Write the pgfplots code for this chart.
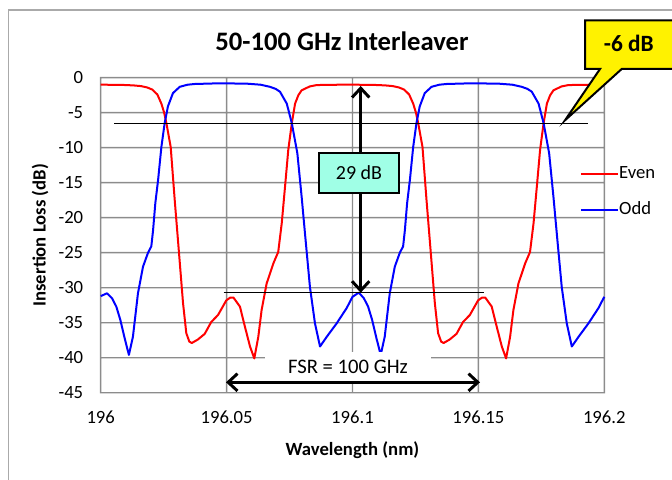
\documentclass[border=0pt]{standalone}
\usepackage{fontspec}
\setmainfont{Carlito}
\usepackage{pgfplots}
\pgfplotsset{compat=1.18}
\usetikzlibrary{arrows.meta}

\definecolor{framegray}{RGB}{170,170,170}
\definecolor{gridgray}{RGB}{140,140,140}
\definecolor{boxcyan}{RGB}{160,255,230}

\begin{document}
\begin{tikzpicture}
% grid drawn as thin filled bars, in pixels (0.75pt per px), behind the curves
\begin{scope}[x=0.75pt, y=-0.75pt, shift={(-100.7,-392.7)}]
  \draw[color=framegray, line width=1pt] (8.6,700) -- (8.6,10) -- (700,10);
  \fill[gridgray]
    (225.9,77.0) rectangle (227.3,393.4)
    (351.8,77.0) rectangle (353.2,393.4)
    (477.7,77.0) rectangle (479.1,393.4)
    (100.0,77.0) rectangle (101.4,393.4)
    (603.6,77.0) rectangle (605.0,393.4)
    (100.0,77.0) rectangle (605.0,78.4)
    (100.0,112.0) rectangle (605.0,113.4)
    (100.0,147.0) rectangle (605.0,148.4)
    (100.0,182.0) rectangle (605.0,183.4)
    (100.0,217.0) rectangle (605.0,218.4)
    (100.0,252.0) rectangle (605.0,253.4)
    (100.0,287.0) rectangle (605.0,288.4)
    (100.0,322.0) rectangle (605.0,323.4)
    (100.0,357.0) rectangle (605.0,358.4)
    (100.0,392.0) rectangle (605.0,393.4);
\end{scope}

\begin{axis}[
  at={(0,0)}, anchor=south west,
  scale only axis, width=377.7pt, height=236.25pt,
  xmin=196, xmax=196.2, ymin=-45, ymax=0,
  xtick={196,196.05,196.1,196.15,196.2},
  xticklabels={196,196.05,196.1,196.15,196.2},
  ytick={-45,-40,-35,-30,-25,-20,-15,-10,-5,0},
  yticklabels={-45,-40,-35,-30,-25,-20,-15,-10,-5,0},
  axis line style={draw=none},
  major tick length=0pt,
  tick label style={font=\fontsize{14}{16}\selectfont},
  yticklabel style={xshift=-9.6pt},
  xticklabel style={yshift=-9.8pt},
  xlabel={Wavelength (nm)},
  ylabel={Insertion Loss (dB)},
  label style={font=\bfseries\fontsize{14}{16}\selectfont},
  xlabel style={at={(axis description cs:0.5,0)}, anchor=center, yshift=-43pt},
  ylabel style={at={(axis description cs:0,0.5)}, anchor=center, yshift=45.5pt},
  title={50-100 GHz Interleaver},
  title style={at={(axis description cs:0.5,1)}, anchor=center, xshift=-7.9pt, yshift=21pt,
    font=\bfseries\fontsize{20}{24}\selectfont},
  legend style={draw=none, fill=none, at={(axis description cs:0.951,0.637)}, anchor=west,
    inner sep=0pt, font=\fontsize{14}{16}\selectfont, row sep=14pt,
    nodes={inner sep=0pt, text height=10pt, text depth=3pt}},
  legend cell align=left,
  legend image code/.code={\draw[#1] (0pt,0pt) -- (28pt,0pt);},
  clip=false,
]

% Even
\addplot[red, line width=1.5pt, line join=round] coordinates {
(196.000,-1.0)(196.008,-1.02)(196.013,-1.1)(196.016,-1.2)(196.0185,-1.4)(196.0205,-1.7)
(196.0225,-2.4)(196.0241,-3.7)(196.0252,-5.0)(196.0261,-6.5)(196.0278,-9.9)(196.0294,-17.5)
(196.031,-24.6)(196.0327,-32.2)(196.034,-36.5)(196.0352,-37.7)(196.0362,-37.9)(196.0386,-37.4)
(196.0413,-36.6)(196.0439,-34.9)(196.0466,-33.9)(196.0499,-31.8)(196.0515,-31.4)(196.0527,-31.4)
(196.0553,-32.7)(196.0573,-35.6)(196.0593,-38.4)(196.061,-40.1)(196.0626,-37)(196.0639,-33.2)
(196.0659,-29.4)(196.0686,-26.5)(196.0705,-24.9)(196.0719,-20.8)(196.0732,-15.6)(196.0745,-10.3)
(196.0759,-6.5)(196.0772,-3.7)(196.0785,-2.5)(196.0798,-1.8)(196.083,-1.25)(196.0858,-1.05)
(196.095,-1.0)
(196.100,-1.0)(196.108,-1.02)(196.113,-1.1)(196.116,-1.2)(196.1185,-1.4)(196.1205,-1.7)
(196.1225,-2.4)(196.1241,-3.7)(196.1252,-5.0)(196.1261,-6.5)(196.1278,-9.9)(196.1294,-17.5)
(196.131,-24.6)(196.1327,-32.2)(196.134,-36.5)(196.1352,-37.7)(196.1362,-37.9)(196.1386,-37.4)
(196.1413,-36.6)(196.1439,-34.9)(196.1466,-33.9)(196.1499,-31.8)(196.1515,-31.4)(196.1527,-31.4)
(196.1553,-32.7)(196.1573,-35.6)(196.1593,-38.4)(196.161,-40.1)(196.1626,-37)(196.1639,-33.2)
(196.1659,-29.4)(196.1686,-26.5)(196.1705,-24.9)(196.1719,-20.8)(196.1732,-15.6)(196.1745,-10.3)
(196.1759,-6.5)(196.1772,-3.7)(196.1785,-2.5)(196.1798,-1.8)(196.183,-1.25)(196.1858,-1.05)
(196.195,-1.0)(196.2,-1.0)
};
\addlegendentry{Even}

% Odd
\addplot[blue, line width=1.5pt, line join=round] coordinates {
(196.000,-31.2)(196.0025,-30.8)(196.0045,-31.5)(196.0062,-32.7)(196.0078,-34.6)(196.0095,-37.2)
(196.0112,-39.6)(196.0128,-37)(196.0148,-30.8)(196.0168,-27)(196.0188,-25)(196.0201,-24.1)
(196.0208,-21.8)(196.0217,-17.9)(196.0228,-14.6)(196.0241,-9.9)(196.0254,-6.5)(196.0267,-4.1)
(196.0287,-2.2)(196.0314,-1.3)(196.0345,-1.0)(196.0373,-0.9)(196.047,-0.8)(196.058,-0.85)
(196.0635,-1.0)(196.0672,-1.3)(196.0695,-1.6)(196.0712,-2.0)(196.0739,-3.7)(196.0759,-6.5)
(196.0781,-10.8)(196.0798,-17)(196.0815,-23.7)(196.0831,-29.9)(196.0851,-35.1)(196.0871,-38.4)
(196.0898,-37)(196.0937,-35.1)(196.0977,-32.9)
(196.100,-31.3)(196.1025,-30.7)(196.1045,-31.5)(196.1062,-32.7)(196.1078,-34.6)(196.1095,-37.2)
(196.1112,-39.6)(196.1128,-37)(196.1148,-30.8)(196.1168,-27)(196.1188,-25)(196.1201,-24.1)
(196.1208,-21.8)(196.1217,-17.9)(196.1228,-14.6)(196.1241,-9.9)(196.1254,-6.5)(196.1267,-4.1)
(196.1287,-2.2)(196.1314,-1.3)(196.1345,-1.0)(196.1373,-0.9)(196.147,-0.8)(196.158,-0.85)
(196.1635,-1.0)(196.1672,-1.3)(196.1695,-1.6)(196.1712,-2.0)(196.1739,-3.7)(196.1759,-6.5)
(196.1781,-10.8)(196.1798,-17)(196.1815,-23.7)(196.1831,-29.9)(196.1851,-35.1)(196.1871,-38.4)
(196.1898,-37)(196.1937,-35.1)(196.1977,-32.9)(196.2,-31.3)
};
\addlegendentry{Odd}
\end{axis}

% annotations and page size, in pixels (0.75pt per px)
\begin{scope}[x=0.75pt, y=-0.75pt, shift={(-100.7,-392.7)}]
  % -6 dB and 29 dB marks
  \draw[black, line width=0.9pt] (114.4,123.3) -- (588,123.3);
  \draw[black, line width=0.9pt] (223.7,292.7) -- (484.3,292.7);
  \draw[black, line width=2.2pt, {Straight Barb[length=7pt,width=13pt]}-{Straight Barb[length=7pt,width=13pt]}]
    (360.7,86) -- (360.7,292.7);
  \node[fill=boxcyan, draw=black, line width=1.5pt, minimum width=59.5pt, minimum height=30pt, inner sep=0pt,
    font=\fontsize{15}{18}\selectfont] at (359,172.7) {29 dB};
  % free spectral range
  \node[fill=white, inner sep=0pt, minimum width=125pt, minimum height=22.5pt,
    font=\fontsize{15.5}{18}\selectfont] at (348,366.7) {FSR = 100 GHz};
  \draw[black, line width=2.2pt, {Straight Barb[length=7pt,width=13pt]}-{Straight Barb[length=7pt,width=13pt]}]
    (226,382.3) -- (480,382.3);
  % callout
  \filldraw[fill=yellow, draw=black, line width=1.5pt]
    (585,20.3) -- (700,20.3) -- (700,69) -- (621.7,69) -- (565,120.3) -- (600,69) -- (585,69) -- cycle;
  \node[font=\bfseries\fontsize{17.5}{20}\selectfont] at (628.8,43) {-6 dB};
  \pgfresetboundingbox
  \path[use as bounding box] (0,0) rectangle (672,479);
\end{scope}
\end{tikzpicture}
\end{document}
